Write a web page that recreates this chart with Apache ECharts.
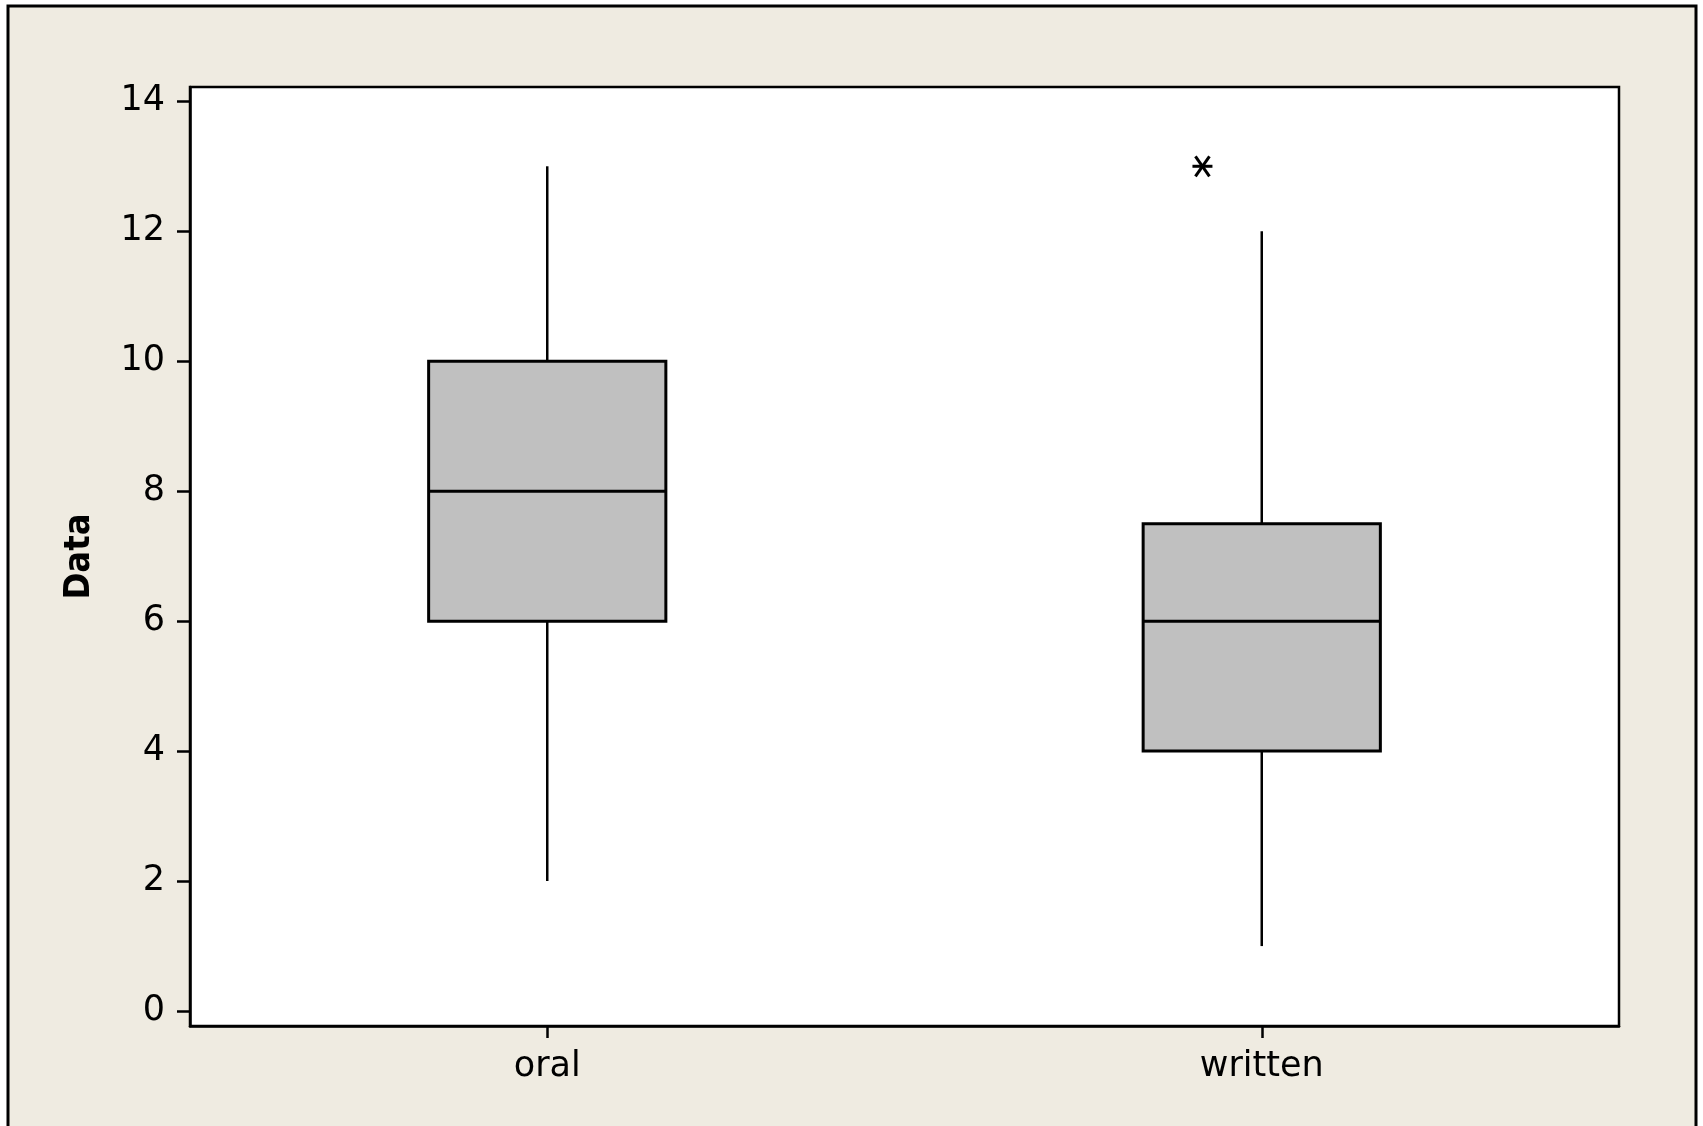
<!DOCTYPE html>
<html><head><meta charset="utf-8">
<script src="https://cdn.jsdelivr.net/npm/echarts@6/dist/echarts.min.js"></script>
<style>html,body{margin:0;padding:0;background:#fff;}#c{width:1703px;height:1126px;}</style>
</head><body><div id="c"></div>
<script>
const categories = ['oral', 'written'];
const lowWhisker = [2, 1];
const q1 = [6, 4];
const median = [8, 6];
const q3 = [10, 7.5];
const highWhisker = [13, 12];
const outlierCategory = ['written'];
const outlierValue = [13];
const yTicks = [0, 2, 4, 6, 8, 10, 12, 14];

const FONT = 'DejaVu Sans';
const chart = echarts.init(document.getElementById('c'), null, {renderer: 'canvas'});

const boxData = categories.map((c, i) => [i, lowWhisker[i], q1[i], median[i], q3[i], highWhisker[i]]);
const outlierData = outlierCategory.map((c, i) => [categories.indexOf(c), outlierValue[i]]);

const lineStyle = {stroke: '#000', lineWidth: 2.5};

chart.setOption({
  animation: false,
  backgroundColor: '#fff',
  graphic: [{
    type: 'rect', z: -100, silent: true,
    shape: {x: 8, y: 6, width: 1688, height: 1200},
    style: {fill: '#EFEBE1', stroke: '#000', lineWidth: 3}
  }],
  grid: {
    left: 190, top: 87, right: 84, bottom: 100,
    show: true, backgroundColor: '#fff', borderColor: '#000', borderWidth: 2.5
  },
  xAxis: {
    type: 'category', data: categories, boundaryGap: true,
    axisLine: {show: true, onZero: false, lineStyle: {color: '#000', width: 2.5}},
    axisTick: {show: true, alignWithLabel: true, length: 12, lineStyle: {color: '#000', width: 2.5}},
    axisLabel: {color: '#000', fontFamily: FONT, fontSize: 35, margin: 23},
    splitLine: {show: false}
  },
  yAxis: {
    type: 'value', min: -0.23, max: 14.22,
    axisLine: {show: true, lineStyle: {color: '#000', width: 2.5}},
    axisTick: {show: true, length: 13, customValues: yTicks, lineStyle: {color: '#000', width: 2.5}},
    axisLabel: {color: '#000', fontFamily: FONT, fontSize: 35, margin: 25, customValues: yTicks},
    splitLine: {show: false},
    name: 'Data', nameLocation: 'middle', nameGap: 92,
    nameTextStyle: {color: '#000', fontFamily: 'DejaVu Sans Condensed', fontSize: 36, fontWeight: 'bold'}
  },
  series: [{
    type: 'custom',
    data: boxData,
    encode: {x: 0, y: [1, 2, 3, 4, 5]},
    renderItem: function (params, api) {
      const idx = api.value(0);
      const pLo = api.coord([idx, api.value(1)]);
      const yQ1 = api.coord([idx, api.value(2)])[1];
      const yMed = api.coord([idx, api.value(3)])[1];
      const yQ3 = api.coord([idx, api.value(4)])[1];
      const yHi = api.coord([idx, api.value(5)])[1];
      const x = pLo[0];
      const w = api.size([1, 0])[0] * 0.332;
      return {type: 'group', children: [
        {type: 'line', shape: {x1: x, y1: pLo[1], x2: x, y2: yQ1}, style: lineStyle},
        {type: 'line', shape: {x1: x, y1: yQ3, x2: x, y2: yHi}, style: lineStyle},
        {type: 'rect', shape: {x: x - w / 2, y: yQ3, width: w, height: yQ1 - yQ3}, style: {fill: '#C0C0C0', stroke: '#000', lineWidth: 3}},
        {type: 'line', shape: {x1: x - w / 2, y1: yMed, x2: x + w / 2, y2: yMed}, style: {stroke: '#000', lineWidth: 3}}
      ]};
    }
  }, {
    type: 'custom',
    data: outlierData,
    encode: {x: 0, y: 1},
    renderItem: function (params, api) {
      const p = api.coord([api.value(0), api.value(1)]);
      const cx = p[0] - api.size([1, 0])[0] * 0.083;
      const cy = p[1];
      const s = {stroke: '#000', lineWidth: 3};
      return {type: 'group', children: [
        {type: 'line', shape: {x1: cx - 10, y1: cy, x2: cx + 10, y2: cy}, style: s},
        {type: 'line', shape: {x1: cx - 7, y1: cy - 10, x2: cx + 7, y2: cy + 10}, style: s},
        {type: 'line', shape: {x1: cx + 7, y1: cy - 10, x2: cx - 7, y2: cy + 10}, style: s}
      ]};
    }
  }]
});
</script>
</body></html>
